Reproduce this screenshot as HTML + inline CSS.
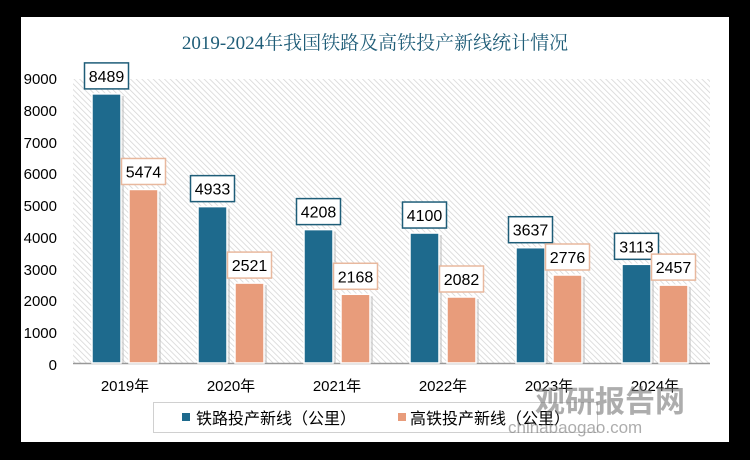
<!DOCTYPE html>
<html><head><meta charset="utf-8"><style>
body{margin:0;background:#000;width:750px;height:460px;overflow:hidden}
svg{display:block}
text{font-family:"Liberation Sans","Noto Sans CJK SC",sans-serif}
</style></head><body>
<svg width="750" height="460" viewBox="0 0 750 460">
<defs>
<pattern id="h" width="4" height="4" patternUnits="userSpaceOnUse" patternTransform="rotate(-45)">
<rect width="4" height="4" fill="#fff"/><line x1="0" y1="0" x2="0" y2="4" stroke="#d4d4d4" stroke-width="1.5"/>
</pattern>
</defs>
<rect x="21" y="17" width="708" height="425" fill="#fff"/>
<text x="375" y="49" text-anchor="middle" font-size="19" fill="#1f5d78" style="font-family:'Liberation Serif','Noto Serif CJK SC',serif">2019-2024年我国铁路及高铁投产新线统计情况</text>
<rect x="73" y="79" width="637" height="284" fill="url(#h)"/>
<line x1="73" y1="363.5" x2="710" y2="363.5" stroke="#999" stroke-width="1.5"/>
<g font-size="15" fill="#000" text-anchor="end">
<text x="57" y="84">9000</text><text x="57" y="116">8000</text><text x="57" y="148">7000</text>
<text x="57" y="179">6000</text><text x="57" y="211">5000</text><text x="57" y="243">4000</text>
<text x="57" y="275">3000</text><text x="57" y="306">2000</text><text x="57" y="338">1000</text>
<text x="57" y="370">0</text>
</g>
<g id="bars"></g>
<g font-size="15" text-anchor="middle">
<text x="125" y="391">2019年</text><text x="231" y="391">2020年</text><text x="337" y="391">2021年</text>
<text x="443" y="391">2022年</text><text x="549" y="391">2023年</text><text x="655" y="391">2024年</text>
</g>
<rect x="153.5" y="402.5" width="444" height="30" fill="#fff" stroke="#d0d0d0"/>
<rect x="182" y="413" width="8" height="8" fill="#1e6a8d"/>
<text x="196" y="424" font-size="16">铁路投产新线（公里）</text>
<rect x="398" y="413" width="8" height="8" fill="#e89c7b"/>
<text x="410" y="424" font-size="16">高铁投产新线（公里）</text>
<text x="535" y="412" font-size="30" font-weight="bold" fill="#777" opacity="0.6">观研报告网</text>
<text x="508" y="433" font-size="17" fill="#777" opacity="0.6">chinabaogao.com</text>
</svg>
<script>
var d=[[8489,5474],[4933,2521],[4208,2168],[4100,2082],[3637,2776],[3113,2457]];
var g=document.getElementById('bars'),s='';
d.forEach(function(p,i){var c=125+106*i;
[[p[0],c-33,'#1e6a8d'],[p[1],c+4,'#e89c7b']].forEach(function(q,k){
var y=363-q[0]*0.0317;
s+='<rect x="'+(q[1]+3)+'" y="'+(y+2)+'" width="29" height="'+(363-y-2)+'" fill="#bbb" opacity="0.5"/>';
s+='<rect x="'+q[1]+'" y="'+y+'" width="29" height="'+(363-y)+'" fill="'+q[2]+'" stroke="#fff" stroke-width="1.5"/>';
var bx=q[1]+14.5;
s+='<rect x="'+(bx-22)+'" y="'+(y-31)+'" width="44" height="26" fill="#fff" stroke="'+(k?'#e8b89e':'#1e5d78')+'" stroke-width="1.5"/>';
s+='<text x="'+bx+'" y="'+(y-12)+'" font-size="16" text-anchor="middle">'+q[0]+'</text>';
});});
g.innerHTML=s;
</script>
</body></html>
